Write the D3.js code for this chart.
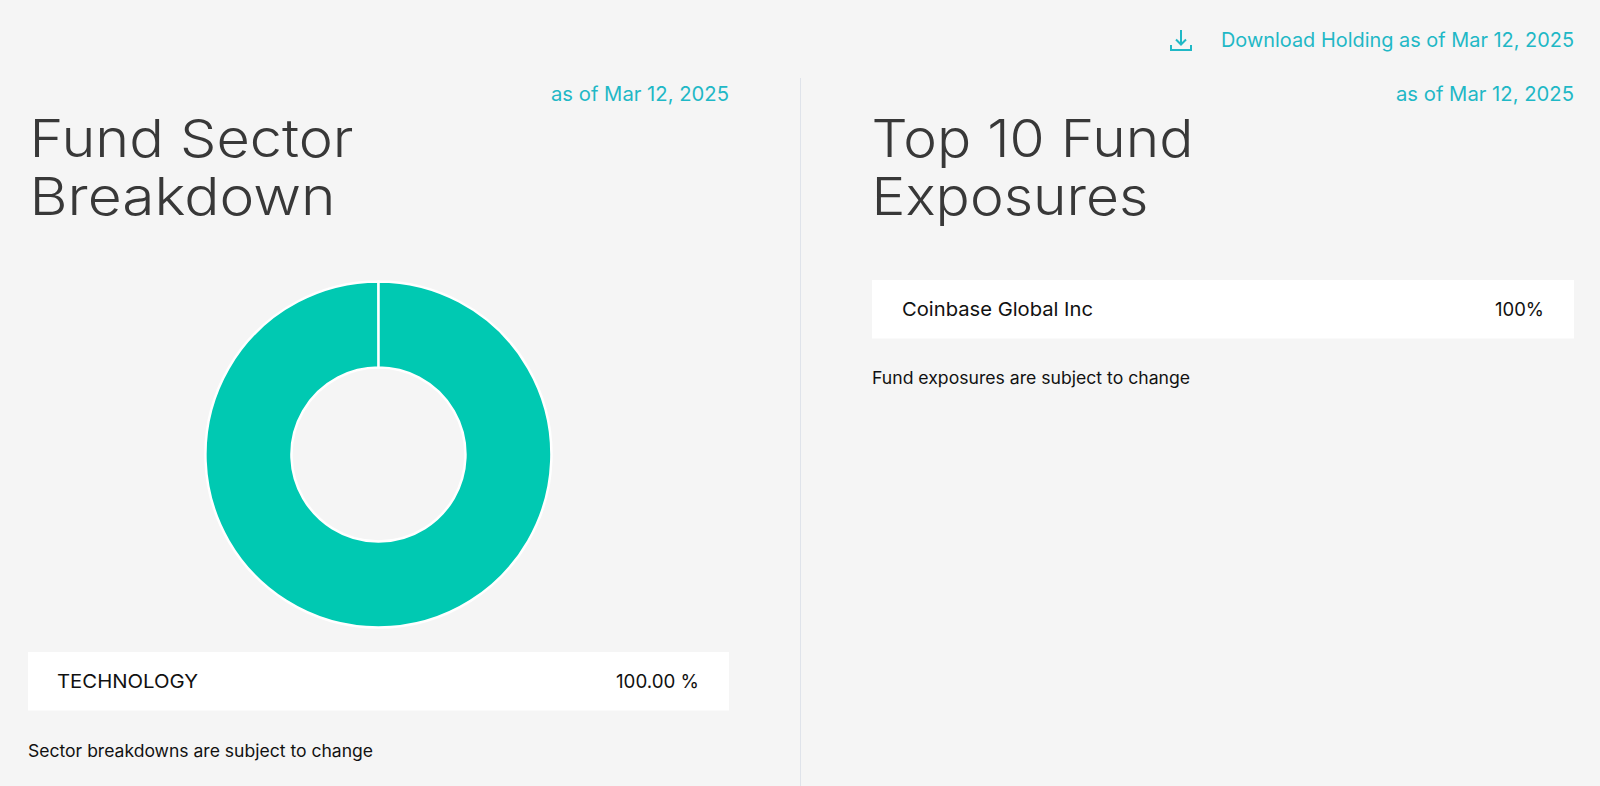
<!DOCTYPE html>
<html><head><meta charset="utf-8">
<script src="https://cdn.jsdelivr.net/npm/d3@7"></script>
<style>html,body{margin:0;padding:0;background:#f5f5f5;overflow:hidden}svg{display:block}text{font-family:Inter,"Open Sans",sans-serif}</style>
</head><body><svg id="c" width="1600" height="786"></svg>
<script>
const sectorNames = ["TECHNOLOGY"];
const sectorValues = [100];
const sectorLabels = ["100.00 %"];
const exposureNames = ["Coinbase Global Inc"];
const exposureLabels = ["100%"];
const asOf = "as of Mar 12, 2025";
const downloadText = "Download Holding as of Mar 12, 2025";
const titleLeft = ["Fund Sector", "Breakdown"];
const titleRight = ["Top 10 Fund", "Exposures"];
const noteLeft = "Sector breakdowns are subject to change";
const noteRight = "Fund exposures are subject to change";

const teal = "#1fb8c6", dark = "#383838", black = "#111";
const svg = d3.select("#c");
function txt(x, y, s, size, fill, len, anchor) {
  return svg.append("text").attr("x", x).attr("y", y).attr("font-size", size).attr("fill", fill)
    .attr("text-anchor", anchor || "start").attr("textLength", len).attr("lengthAdjust", "spacingAndGlyphs").text(s);
}
// divider
svg.append("line").attr("x1", 800.5).attr("x2", 800.5).attr("y1", 78).attr("y2", 786).attr("stroke", "#dfe3ea");
// download icon
const ic = svg.append("g").attr("fill", "none").attr("stroke", teal).attr("stroke-width", 2);
ic.append("path").attr("d", "M1181 30V44M1176 39.5L1181 44.5L1186 39.5");
ic.append("path").attr("d", "M1171 45V50H1191V45");
txt(1574, 47, downloadText, 20, teal, 353, "end");
txt(729, 101, asOf, 20, teal, 178, "end");
txt(1574, 101, asOf, 20, teal, 178, "end");
// titles
const titleLens = [[324, 306], [322, 277]];
titleLeft.forEach((s, i) => txt(29.5, 157 + i * 58, s, 52, dark, titleLens[0][i]).attr("font-weight", 300));
titleRight.forEach((s, i) => txt(871.5, 157 + i * 58, s, 52, dark, titleLens[1][i]).attr("font-weight", 300));
// donut: the sweep stops just short of a full turn so the white seam at 12 o'clock shows
const pie = d3.pie().sort(null).endAngle(2 * Math.PI - 0.001)(sectorValues);
const arc = d3.arc().innerRadius(87).outerRadius(173);
svg.append("g").attr("transform", "translate(378.5,454.5)").selectAll("path").data(pie).join("path")
  .attr("d", arc).attr("fill", "#00c9b2").attr("stroke", "#fff").attr("stroke-width", 2.5);
// rows
svg.append("rect").attr("x", 28).attr("y", 652).attr("width", 701).attr("height", 58.5).attr("fill", "#fff");
txt(57, 688, sectorNames[0], 19, black, 141);
txt(699, 688, sectorLabels[0], 19, black, 83, "end");
svg.append("rect").attr("x", 872).attr("y", 280).attr("width", 702).attr("height", 58.5).attr("fill", "#fff");
txt(902, 316, exposureNames[0], 19, black, 191);
txt(1544, 316, exposureLabels[0], 19, black, 49, "end");
txt(28, 757, noteLeft, 17, black, 345);
txt(872, 384, noteRight, 17, black, 318);
</script></body></html>
